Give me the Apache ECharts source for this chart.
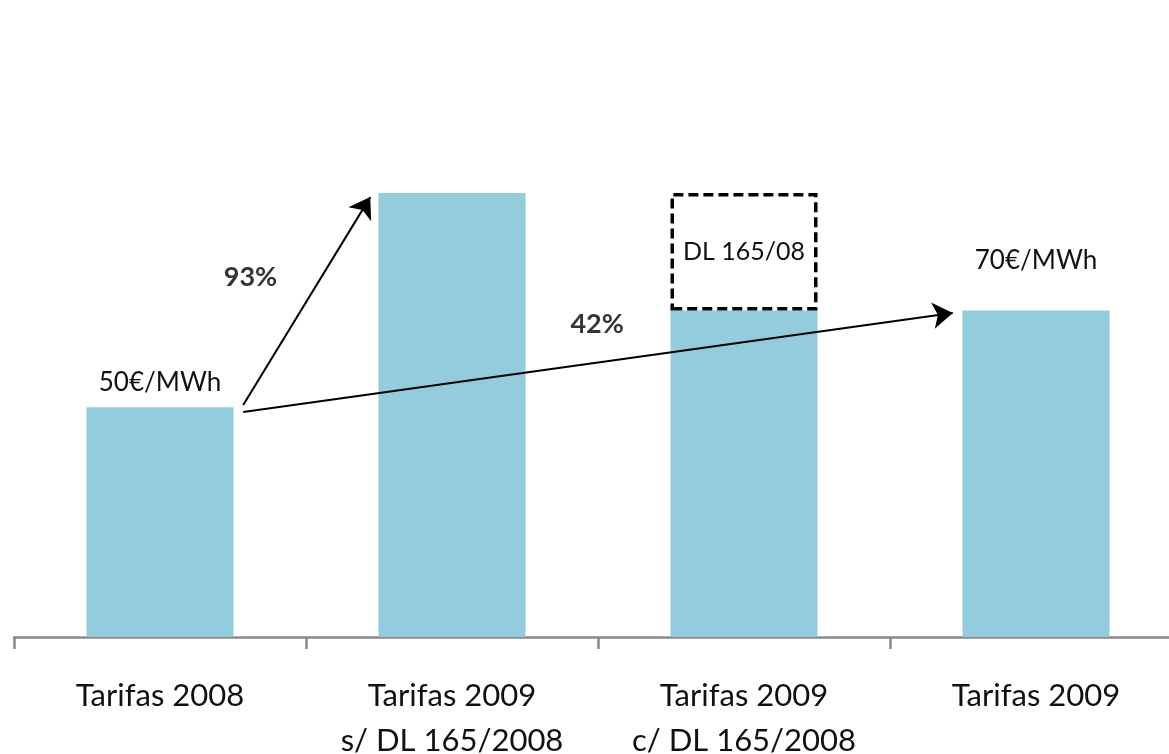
<!DOCTYPE html>
<html>
<head>
<meta charset="utf-8">
<script src="https://cdn.jsdelivr.net/npm/echarts@6/dist/echarts.min.js"></script>
<style>html,body{margin:0;padding:0;background:#fff;}#c{width:1169px;height:754px;}</style>
</head>
<body>
<div id="c"></div>
<script>
const categories = ['Tarifas 2008', 'Tarifas 2009\ns/ DL 165/2008', 'Tarifas 2009\nc/ DL 165/2008', 'Tarifas 2009'];
const values = [49.4, 95.5, 70.2, 70.2];
const dlExtra = ['-', '-', 25.3, '-'];
const valueLabels = ['50€/MWh', '', '', '70€/MWh'];
const boxLabel = 'DL 165/08';
const pctLabels = [['93%', 0.31, 77.4], ['42%', 1.497, 67.3]];

const FONT = 'Lato';
const chart = echarts.init(document.getElementById('c'), null, {renderer: 'canvas'});

const barData = values.map((v, i) => {
  const item = {value: v};
  if (valueLabels[i]) {
    item.label = {show: true, position: 'top', distance: i === 0 ? 12 : 37, formatter: valueLabels[i],
      fontFamily: FONT, fontSize: 26, color: '#111'};
  }
  return item;
});

const arrows = [
  {coords: [[0.285, values[0] + 0.5], [0.72, values[1] - 0.9]]},
  {coords: [[0.285, values[0] - 1.0], [2.715, values[3] - 0.5]]}
];

chart.setOption({
  animation: false,
  backgroundColor: '#fff',
  grid: {left: 14, right: -13, top: 32.5, bottom: 117, containLabel: false, outerBoundsMode: 'none'},
  xAxis: [
    {type: 'category', data: categories,
      axisLine: {show: true, lineStyle: {color: '#898989', width: 2.5}},
      axisTick: {show: true, alignWithLabel: false, length: 12, lineStyle: {color: '#898989', width: 2.5}},
      axisLabel: {fontFamily: FONT, fontSize: 31, lineHeight: 45, color: '#111', margin: 36, interval: 0}
    },
    {type: 'value', min: -0.5, max: 3.5, show: false}
  ],
  yAxis: {type: 'value', min: 0, max: 130, show: false, splitLine: {show: false}},
  series: [
    {type: 'bar', stack: 's', data: barData, barWidth: 147, itemStyle: {color: '#93CDDD'}, z: 2},
    {type: 'bar', stack: 's', data: dlExtra, barWidth: 147, z: 3,
      itemStyle: {color: 'rgba(0,0,0,0)', borderColor: '#000', borderWidth: 3.5, borderType: [10, 5]},
      label: {show: true, position: 'inside', formatter: boxLabel, fontFamily: FONT, fontSize: 25, color: '#111'}
    },
    {type: 'lines', coordinateSystem: 'cartesian2d', xAxisIndex: 1, yAxisIndex: 0, z: 5,
      symbol: ['none', 'arrow'], symbolSize: [16, 20],
      lineStyle: {color: '#000', width: 2, opacity: 1, curveness: 0},
      data: arrows
    },
    {type: 'scatter', xAxisIndex: 1, yAxisIndex: 0, symbolSize: 1, itemStyle: {color: 'rgba(0,0,0,0)'}, z: 6,
      data: pctLabels.map(p => ({value: [p[1], p[2]], name: p[0]})),
      label: {show: true, position: 'inside', formatter: p => p.name, fontFamily: FONT, fontWeight: 'bold', fontSize: 27, color: '#000'}
    }
  ]
});
</script>
</body>
</html>
